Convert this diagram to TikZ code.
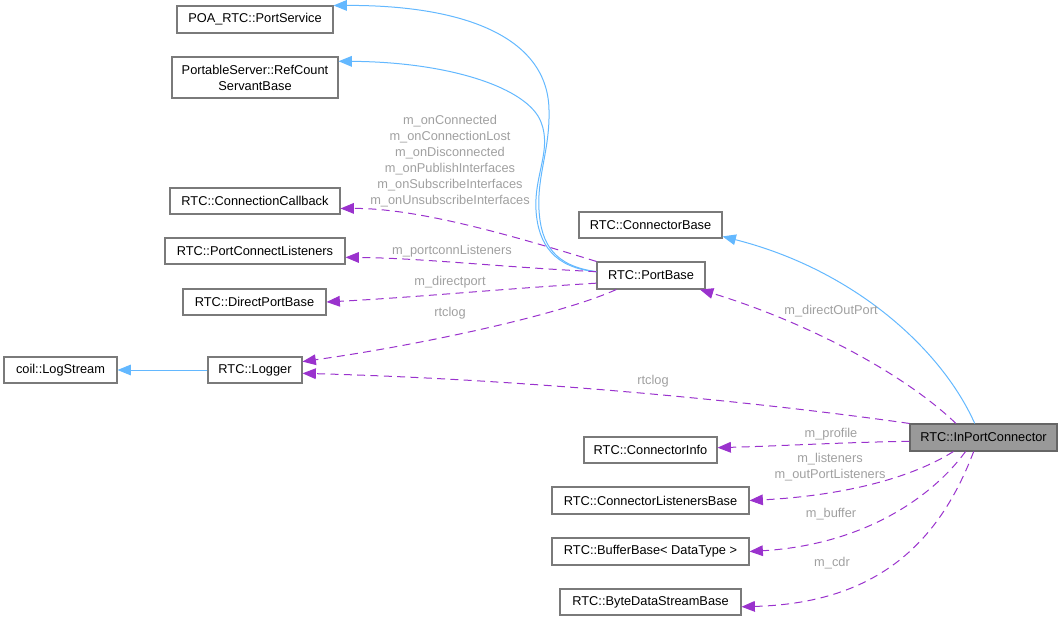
\documentclass[tikz,border=0pt]{standalone}
\usepackage{fontspec}
\setmainfont{Liberation Sans}
\usetikzlibrary{arrows.meta}
\definecolor{edgeblue}{HTML}{63B8FF}
\definecolor{edgepurple}{HTML}{9A32CD}
\definecolor{boxborder}{HTML}{7A7A7A}
\definecolor{labelgray}{HTML}{A0A0A0}
\definecolor{hifill}{HTML}{999999}
\definecolor{hiborder}{HTML}{666666}
\begin{document}
\begin{tikzpicture}[x=0.75pt,y=-0.75pt,
 font=\fontsize{9.6}{12}\selectfont,
 cls/.style={draw=boxborder, line width=0.8pt, fill=white, inner sep=0pt, minimum height=19.5pt, align=center},
 hi/.style={cls, fill=hifill, draw=hiborder},
 inherit/.style={draw=edgeblue, line width=0.75pt, -{Triangle[length=10pt,width=8pt]}},
 uses/.style={draw=edgepurple, line width=0.75pt, dash pattern=on 6pt off 4pt, -{Triangle[length=10pt,width=8pt]}},
 lbl/.style={text=labelgray, inner sep=0pt, align=center},
]
\useasboundingbox (0,0) rectangle (1063,621);

% nodes
\node[cls, minimum width=117pt, minimum height=20.25pt] (ps) at (255,19.5) {POA\_RTC::PortService};
\node[cls, minimum width=124.5pt, minimum height=30.75pt] (rc) at (255,77.5) {PortableServer::RefCount\\ServantBase};
\node[cls, minimum width=127.5pt] (cc) at (255,201) {RTC::ConnectionCallback};
\node[cls, minimum width=135pt] (pcl) at (255,251) {RTC::PortConnectListeners};
\node[cls, minimum width=107.25pt] (dpb) at (254.5,302) {RTC::DirectPortBase};
\node[cls, minimum width=84.75pt] (ls) at (60.5,370) {coil::LogStream};
\node[cls, minimum width=70.5pt] (lg) at (255,370) {RTC::Logger};
\node[cls, minimum width=107.25pt] (cb) at (650.5,225) {RTC::ConnectorBase};
\node[cls, minimum width=81pt, minimum height=20.25pt] (pb) at (651,275.5) {RTC::PortBase};
\node[hi, minimum width=110.25pt, minimum height=20.25pt] (ipc) at (983.5,437.5) {RTC::InPortConnector};
\node[cls, minimum width=99.75pt] (ci) at (650.5,450) {RTC::ConnectorInfo};
\node[cls, minimum width=147.75pt, minimum height=20.25pt] (clb) at (650.5,500.5) {RTC::ConnectorListenersBase};
\node[cls, minimum width=147.75pt, minimum height=20.25pt] (bb) at (650.5,551.5) {RTC::BufferBase< DataType >};
\node[cls, minimum width=135.75pt] (bds) at (650.5,602) {RTC::ByteDataStreamBase};

% inheritance
\draw[inherit] (lg) -- (ls);
\draw[inherit] (pb.176) .. controls (555,266) and (541,245) .. (539,210)
   .. controls (537,175) and (550,150) .. (549,110)
   .. controls (548,40) and (470,5) .. (ps.north east);
\draw[inherit] (pb.176) .. controls (555,268) and (538,245) .. (536,210)
   .. controls (534,175) and (552,150) .. (541,122)
   .. controls (528,88) and (450,62) .. (rc.11);
\draw[inherit] (ipc.122) .. controls (942,350) and (855,270) .. (cb.-9);

% usage
\draw[uses] (pb.north west) .. controls (520,238) and (420,208) .. (cc.-5);
\draw[uses] (pb.176) .. controls (500,267) and (420,258) .. (pcl.-4);
\draw[uses] (pb.-172) .. controls (500,289) and (420,297) .. (dpb.east);
\draw[uses] (pb.-158) .. controls (560,315) and (420,345) .. (lg.10);
\draw[uses] (ipc.north west) .. controls (780,405) and (550,380) .. (lg.-4);
\draw[uses] (ipc.153) .. controls (900,370) and (800,320) .. (pb.-16);
\draw[uses] (ipc.183) .. controls (850,442) and (780,446) .. (ci.2);
\draw[uses] (ipc.-155) .. controls (900,485) and (820,497) .. (clb.east);
\draw[uses] (ipc.-142) .. controls (930,500) and (860,545) .. (bb.east);
\draw[uses] (ipc.-125) .. controls (940,540) and (880,603) .. (bds.-3);

% labels
\node[lbl] (l1) at (450,161) {m\_onConnected\\m\_onConnectionLost\\m\_onDisconnected\\m\_onPublishInterfaces\\m\_onSubscribeInterfaces\\m\_onUnsubscribeInterfaces};
\node[lbl] (l2) at (452,251.5) {m\_portconnListeners};
\node[lbl] (l3) at (450,282.5) {m\_directport};
\node[lbl] (l4) at (450,313) {rtclog};
\node[lbl] (l5) at (653,381.5) {rtclog};
\node[lbl] (l6) at (831,311) {m\_directOutPort};
\node[lbl] (l7) at (831,434) {m\_profile};
\node[lbl] (l8) at (830,467.5) {m\_listeners\\m\_outPortListeners};
\node[lbl] (l9) at (831,514) {m\_buffer};
\node[lbl] (l10) at (832,563.5) {m\_cdr};
\end{tikzpicture}
\end{document}
